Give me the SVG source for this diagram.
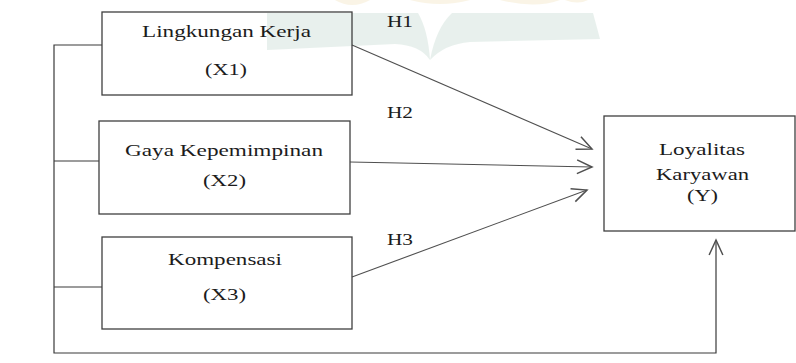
<svg xmlns="http://www.w3.org/2000/svg" width="796" height="363" viewBox="0 0 796 363">
  <style>
    .box { fill: none; stroke: #3f3f3f; stroke-width: 1.3; }
    .wire { fill: none; stroke: #3a3a3a; stroke-width: 1.2; }
    .arr { fill: none; stroke: #505050; stroke-width: 1.1; }
    text { font-family: "Liberation Serif", "Times New Roman", serif; font-size: 17.5px; fill: #1c1c1c; }
    .c { text-anchor: middle; }
  </style>
  <defs>
    <marker id="open" markerUnits="userSpaceOnUse" markerWidth="20" markerHeight="20" refX="0" refY="0" viewBox="-14 -8 16 16" orient="auto" overflow="visible">
      <path d="M -12 -5.5 L 0 0 L -12 5.5" fill="none" stroke="#505050" stroke-width="1.2"/>
    </marker>
  </defs>
  <rect width="796" height="363" fill="#ffffff"/>
  <g id="watermark" opacity="0.4">
    <path d="M 267 13 L 418 13 Q 428 30 430 60 Q 436 28 452 13 L 593 13 L 600 39 L 470 42 Q 445 44 430 60 Q 420 45 395 44 L 267 50 Z" fill="#c7dcd3"/>
    <path d="M 410 0 Q 440 8 470 0 Z M 500 0 Q 535 9 560 0 Z M 565 0 Q 578 5 588 0 Z M 335 0 Q 352 10 370 0 Z" fill="#f3e6c2"/>
  </g>
  <g id="connectors">
    <polyline class="wire" points="102,45 54,45 54,353 716,353 716,240" marker-end="url(#open)"/>
    <line class="wire" x1="54" y1="161" x2="99" y2="161"/>
    <line class="wire" x1="54" y1="287" x2="102" y2="287"/>
    <line class="arr" x1="352" y1="45" x2="592" y2="149" marker-end="url(#open)"/>
    <line class="arr" x1="350" y1="162" x2="592" y2="167" marker-end="url(#open)"/>
    <line class="arr" x1="352" y1="277" x2="587" y2="190" marker-end="url(#open)"/>
    <text x="387" y="27" textLength="26" lengthAdjust="spacingAndGlyphs">H1</text>
    <text x="387" y="118" textLength="26" lengthAdjust="spacingAndGlyphs">H2</text>
    <text x="387" y="245" textLength="26" lengthAdjust="spacingAndGlyphs">H3</text>
  </g>
  <g id="x1">
    <rect class="box" x="102" y="12" width="250" height="83"/>
    <text class="c" x="226.5" y="37" textLength="169" lengthAdjust="spacingAndGlyphs">Lingkungan Kerja</text>
    <text class="c" x="226" y="75" textLength="42" lengthAdjust="spacingAndGlyphs">(X1)</text>
  </g>
  <g id="x2">
    <rect class="box" x="99" y="121" width="251" height="93"/>
    <text class="c" x="224" y="156" textLength="198" lengthAdjust="spacingAndGlyphs">Gaya Kepemimpinan</text>
    <text class="c" x="224.5" y="186" textLength="43" lengthAdjust="spacingAndGlyphs">(X2)</text>
  </g>
  <g id="x3">
    <rect class="box" x="102" y="237" width="250" height="92"/>
    <text class="c" x="225" y="265" textLength="114" lengthAdjust="spacingAndGlyphs">Kompensasi</text>
    <text class="c" x="224.5" y="300" textLength="43" lengthAdjust="spacingAndGlyphs">(X3)</text>
  </g>
  <g id="y">
    <rect class="box" x="604" y="116" width="191" height="115"/>
    <text class="c" x="702" y="155" textLength="86" lengthAdjust="spacingAndGlyphs">Loyalitas</text>
    <text class="c" x="702.5" y="180" textLength="93" lengthAdjust="spacingAndGlyphs">Karyawan</text>
    <text class="c" x="702.5" y="201" textLength="31" lengthAdjust="spacingAndGlyphs">(Y)</text>
  </g>
</svg>
